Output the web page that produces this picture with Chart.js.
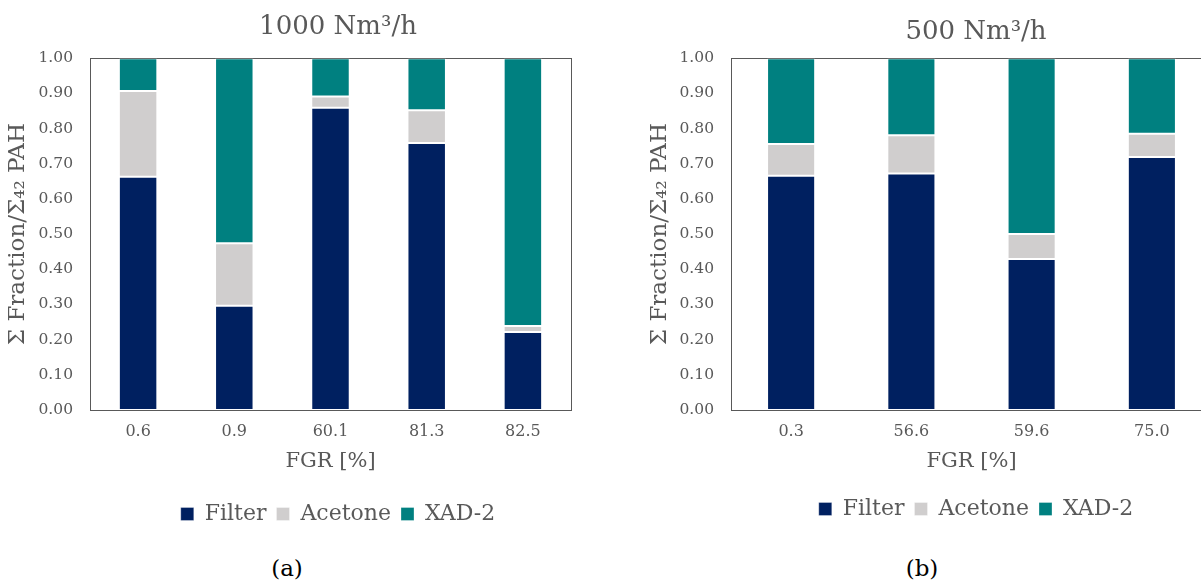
<!DOCTYPE html>
<html>
<head>
<meta charset="utf-8">
<script src="https://cdn.jsdelivr.net/npm/chart.js@4.4.1/dist/chart.umd.min.js"></script>
<style>
  html, body { margin: 0; padding: 0; background: #fff; overflow: hidden; }
  body { width: 1201px; height: 583px; position: relative; }
  .box { position: absolute; top: 0; height: 540px; }
  .cap { position: absolute; font-family: 'DejaVu Serif', serif; font-size: 23px; color: #000; transform: translate(-50%, -50%); }
</style>
</head>
<body>
<div class="box" style="left:0; width:676px;"><canvas id="chartA"></canvas></div>
<div class="box" style="left:620px; width:712px;"><canvas id="chartB"></canvas></div>
<div class="cap" style="left:287px; top:568px;">(a)</div>
<div class="cap" style="left:922px; top:568px;">(b)</div>
<script>
// Données
const seriesNames = ['Filter', 'Acetone', 'XAD-2'];
const seriesColors = ['#002060', '#D0CECE', '#008080'];
const yTicks = [0, 0.1, 0.2, 0.3, 0.4, 0.5, 0.6, 0.7, 0.8, 0.9, 1.0];

// (a) 1000 Nm³/h
const fgrA = ['0.6', '0.9', '60.1', '81.3', '82.5'];
const filterA = [0.663, 0.296, 0.859, 0.759, 0.222];
const acetoneA = [0.244, 0.178, 0.032, 0.093, 0.017];
const xadA = [0.093, 0.526, 0.109, 0.148, 0.761];

// (b) 500 Nm³/h
const fgrB = ['0.3', '56.6', '59.6', '75.0'];
const filterB = [0.666, 0.672, 0.429, 0.719];
const acetoneB = [0.090, 0.109, 0.071, 0.066];
const xadB = [0.244, 0.219, 0.500, 0.215];

Chart.defaults.font.family = "'DejaVu Serif', serif";
Chart.defaults.color = '#595959';
Chart.defaults.animation = false;

const frame = '#595959';

function makeChart(canvasId, cfg) {
  const datasets = [cfg.filter, cfg.acetone, cfg.xad].map((values, i) => ({
    label: seriesNames[i],
    data: values,
    backgroundColor: seriesColors[i],
    borderColor: 'rgba(255,255,255,0.3)',
    borderWidth: 1,
    borderSkipped: false,
    barPercentage: 0.4,
    categoryPercentage: 1.0
  }));

  return new Chart(document.getElementById(canvasId), {
    type: 'bar',
    data: { labels: cfg.labels, datasets },
    options: {
      responsive: true,
      maintainAspectRatio: false,
      layout: { padding: { top: 0, left: 0, right: 0, bottom: cfg.padBottom } },
      plugins: {
        tooltip: { enabled: false },
        title: {
          display: true,
          text: cfg.title,
          font: { size: 26, weight: 'normal' },
          color: '#595959',
          padding: { top: cfg.titleTop, bottom: cfg.titleBottom }
        },
        legend: {
          position: 'bottom',
          labels: {
            boxWidth: 13,
            boxHeight: 13,
            padding: 10,
            font: { size: 22 },
            color: '#595959'
          }
        }
      },
      scales: {
        x: {
          stacked: true,
          position: 'bottom',
          grid: { display: false, drawTicks: false },
          border: { display: true, color: frame, width: 1 },
          ticks: { font: { size: 16 }, padding: 12 },
          title: {
            display: true,
            text: 'FGR [%]',
            font: { size: 21 },
            padding: { top: 0, bottom: cfg.xTitleBottom }
          },
          afterFit: s => { s.height = cfg.xHeight; }
        },
        xTop: {
          type: 'linear',
          position: 'top',
          grid: { display: false, drawTicks: false },
          border: { display: true, color: frame, width: 1 },
          ticks: { display: false },
          afterFit: s => { s.height = 0; }
        },
        y: {
          stacked: true,
          min: 0,
          max: 1,
          afterBuildTicks: s => { s.ticks = yTicks.map(v => ({ value: v })); },
          grid: { display: false, drawTicks: false },
          border: { display: true, color: frame, width: 1 },
          ticks: { font: { size: 15.5 }, padding: 17, callback: v => v.toFixed(2) },
          title: {
            display: true,
            text: 'Σ Fraction/Σ₄₂ PAH',
            font: { size: 23 },
            padding: { top: cfg.yTitlePad, bottom: 0 }
          },
          afterFit: s => { s.width = cfg.yWidth; }
        },
        yRight: {
          type: 'linear',
          position: 'right',
          grid: { display: false, drawTicks: false },
          border: { display: true, color: frame, width: 1 },
          ticks: { display: false },
          afterFit: s => { s.width = cfg.rightWidth; }
        }
      }
    }
  });
}

makeChart('chartA', {
  title: '1000 Nm³/h',
  labels: fgrA, filter: filterA, acetone: acetoneA, xad: xadA,
  titleTop: 12, titleBottom: 15,
  padBottom: 5, xHeight: 83, xTitleBottom: 19,
  yWidth: 90, yTitlePad: 4, rightWidth: 105
});

makeChart('chartB', {
  title: '500 Nm³/h',
  labels: fgrB, filter: filterB, acetone: acetoneB, xad: xadB,
  titleTop: 17, titleBottom: 10,
  padBottom: 10, xHeight: 78, xTitleBottom: 14,
  yWidth: 111, yTitlePad: 26, rightWidth: 120
});
</script>
</body>
</html>
